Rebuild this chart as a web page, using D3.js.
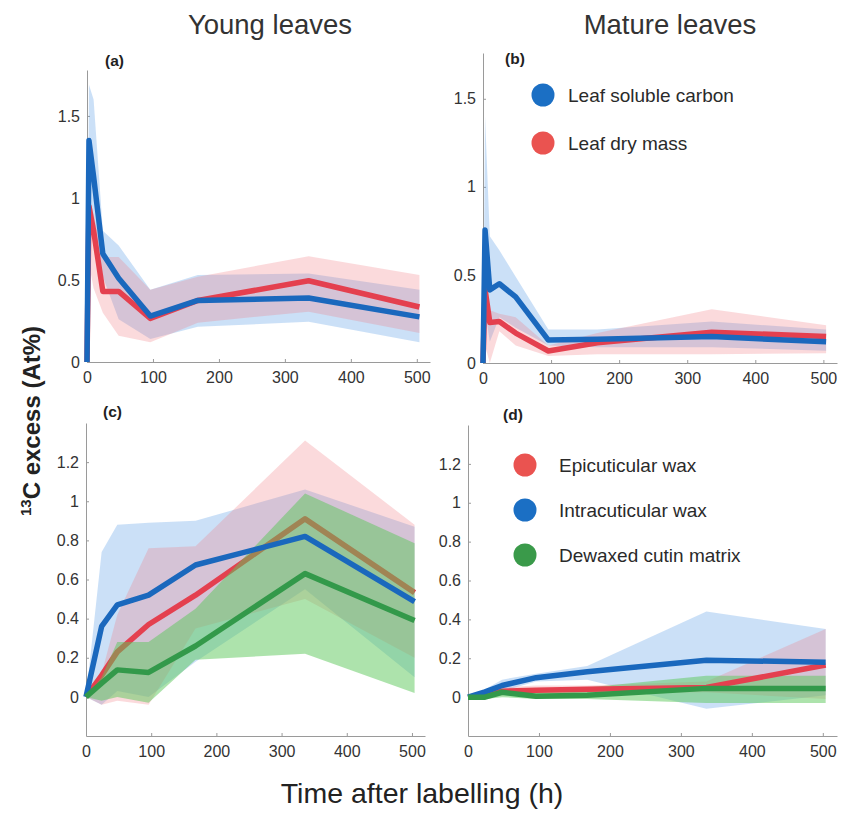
<!DOCTYPE html>
<html>
<head>
<meta charset="utf-8">
<script src="https://cdn.jsdelivr.net/npm/d3@7"></script>
<style>
  body { margin: 0; background: #fff; }
  svg { font-family: "Liberation Sans", Arial, sans-serif; }
  .axis path, .axis line { stroke: #9a9a9a; }
  .axis text { fill: #333; font-size: 16px; }
</style>
</head>
<body>
<svg width="845" height="814"></svg>
<script>
// sampling times (h)
const timesLeaf = [0, 3, 10, 24, 48, 96, 168, 336, 504];
const timesCuticle = [0, 24, 48, 96, 168, 336, 504];

const xTicks = [0, 100, 200, 300, 400, 500];
const yTicksLeaf = [0, 0.5, 1, 1.5];
const yTicksCuticle = [0, 0.2, 0.4, 0.6, 0.8, 1, 1.2];

// (a) young leaves
const aSolMean = [0, 1.35, 1.13, 0.66, 0.51, 0.28, 0.375, 0.39, 0.275];
const aSolHi   = [0, 1.69, 1.60, 0.80, 0.71, 0.44, 0.53, 0.54, 0.44];
const aSolLo   = [0, 1.00, 0.85, 0.52, 0.26, 0.14, 0.215, 0.245, 0.12];
const aDryMean = [0, 0.95, 0.80, 0.43, 0.43, 0.265, 0.375, 0.495, 0.335];
const aDryHi   = [0, 1.00, 0.90, 0.64, 0.64, 0.44, 0.52, 0.645, 0.53];
const aDryLo   = [0, 0.60, 0.45, 0.30, 0.16, 0.12, 0.24, 0.307, 0.177];

// (b) mature leaves
const bSolMean = [0, 0.755, 0.415, 0.45, 0.375, 0.13, 0.135, 0.15, 0.12];
const bSolHi   = [0, 1.40, 0.72, 0.64, 0.49, 0.19, 0.19, 0.235, 0.19];
const bSolLo   = [0, 0.30, 0.12, 0.26, 0.20, 0.10, 0.09, 0.09, 0.07];
const bDryMean = [0, 0.42, 0.23, 0.235, 0.17, 0.068, 0.115, 0.175, 0.15];
const bDryHi   = [0, 0.50, 0.30, 0.28, 0.26, 0.10, 0.17, 0.305, 0.215];
const bDryLo   = [0, 0.10, 0.00, 0.18, 0.10, 0.04, 0.05, 0.05, 0.055];

// (c) young leaves, cuticle fractions
const cEpiMean   = [0, 0.11, 0.23, 0.37, 0.52, 0.91, 0.533];
const cEpiHi     = [0, 0.12, 0.42, 0.76, 0.77, 1.31, 0.88];
const cEpiLo     = [0, -0.04, -0.02, -0.04, 0.35, 0.50, 0.20];
const cIntraMean = [0, 0.36, 0.47, 0.52, 0.674, 0.82, 0.487];
const cIntraHi   = [0, 0.74, 0.88, 0.89, 0.90, 1.06, 0.87];
const cIntraLo   = [0, -0.04, 0.03, 0.00, 0.18, 0.55, 0.10];
const cCutinMean = [0, 0.07, 0.138, 0.125, 0.26, 0.63, 0.39];
const cCutinHi   = [0, 0.10, 0.28, 0.28, 0.45, 1.04, 0.785];
const cCutinLo   = [0, -0.02, 0.00, -0.03, 0.19, 0.22, 0.02];

// (d) mature leaves, cuticle fractions
const dEpiMean   = [0, 0.01, 0.03, 0.035, 0.04, 0.05, 0.165];
const dEpiHi     = [0, 0.02, 0.05, 0.06, 0.06, 0.08, 0.35];
const dEpiLo     = [0, -0.01, 0.01, 0.015, 0.02, 0.025, -0.01];
const dIntraMean = [0, 0.027, 0.06, 0.10, 0.13, 0.19, 0.18];
const dIntraHi   = [0, 0.04, 0.09, 0.12, 0.16, 0.44, 0.35];
const dIntraLo   = [0, 0.01, 0.03, 0.08, 0.09, -0.06, 0.01];
const dCutinMean = [0, 0.0, 0.025, 0.005, 0.01, 0.045, 0.045];
const dCutinHi   = [0, 0.02, 0.04, 0.03, 0.05, 0.11, 0.11];
const dCutinLo   = [0, -0.01, 0.0, -0.01, -0.01, -0.03, -0.03];

const legendLeaf = ["Leaf soluble carbon", "Leaf dry mass"];
const legendCuticle = ["Epicuticular wax", "Intracuticular wax", "Dewaxed cutin matrix"];

const blue = { line: "#1a68bd", band: "#5c9ee6", op: 0.32, dot: "#1b6fc4" };
const red = { line: "#e4404f", band: "#f07a80", op: 0.28, dot: "#ea5350" };
const green = { line: "#33994a", band: "#5cc85a", op: 0.5, dot: "#3a9a4a" };

const svg = d3.select("svg");

const panels = [
  { label: "(a)", lx: 105, ly: 66, xr: [87, 430], yd: [0, 1.78], yr: [362, 70], yt: yTicksLeaf, t: timesLeaf,
    layers: [
      ["band", aSolLo, aSolHi, blue], ["band", aDryLo, aDryHi, red],
      ["line", aDryMean, red], ["line", aSolMean, blue]] },
  { label: "(b)", lx: 505, ly: 64, xr: [483, 837], yd: [0, 1.76], yr: [363, 53], yt: yTicksLeaf, t: timesLeaf,
    layers: [
      ["band", bSolLo, bSolHi, blue], ["band", bDryLo, bDryHi, red],
      ["line", bDryMean, red], ["line", bSolMean, blue]] },
  { label: "(c)", lx: 103, ly: 417, xr: [86, 425], yd: [-0.2, 1.4], yr: [736, 423], yt: yTicksCuticle, t: timesCuticle,
    layers: [
      ["band", cIntraLo, cIntraHi, blue], ["band", cEpiLo, cEpiHi, red], ["line", cEpiMean, red],
      ["band", cCutinLo, cCutinHi, green], ["line", cIntraMean, blue], ["line", cCutinMean, green]] },
  { label: "(d)", lx: 503, ly: 420, xr: [468, 837], yd: [-0.2, 1.4], yr: [736, 425], yt: yTicksCuticle, t: timesCuticle,
    layers: [
      ["band", dIntraLo, dIntraHi, blue], ["band", dEpiLo, dEpiHi, red],
      ["band", dCutinLo, dCutinHi, green], ["line", dEpiMean, red],
      ["line", dIntraMean, blue], ["line", dCutinMean, green]] }
];

panels.forEach(drawPanel);

function drawPanel(p) {
  const x = d3.scaleLinear().domain([0, 520]).range(p.xr);
  const y = d3.scaleLinear().domain(p.yd).range(p.yr);
  const g = svg.append("g");

  g.append("g")
    .attr("class", "axis")
    .attr("transform", `translate(0,${p.yr[0]})`)
    .call(d3.axisBottom(x).tickValues(xTicks).tickSizeInner(-3).tickSizeOuter(0).tickPadding(10).tickFormat(d3.format("d")));

  g.append("g")
    .attr("class", "axis")
    .attr("transform", `translate(${p.xr[0]},0)`)
    .call(d3.axisLeft(y).tickValues(p.yt).tickSizeInner(-3).tickSizeOuter(0).tickPadding(7).tickFormat(d3.format("~g")));

  g.selectAll(".axis text").attr("font-family", null);

  p.layers.forEach(layer => {
    if (layer[0] == "band") {
      const lo = layer[1], hi = layer[2], c = layer[3];
      const area = d3.area()
        .x((d, i) => x(p.t[i]))
        .y0((d, i) => y(lo[i]))
        .y1((d, i) => y(hi[i]));
      g.append("path")
        .datum(lo)
        .attr("d", area)
        .attr("fill", c.band)
        .attr("fill-opacity", c.op);
    } else {
      const vals = layer[1], c = layer[2];
      const line = d3.line()
        .x((d, i) => x(p.t[i]))
        .y(d => y(d));
      g.append("path")
        .datum(vals)
        .attr("d", line)
        .attr("fill", "none")
        .attr("stroke", c.line)
        .attr("stroke-width", 5.5)
        .attr("stroke-linejoin", "round");
    }
  });

  svg.append("text")
    .attr("x", p.lx)
    .attr("y", p.ly)
    .attr("font-size", 15.5)
    .attr("font-weight", "bold")
    .attr("fill", "#222")
    .text(p.label);
}

/* ----------- legends ----------- */

function legend(items, colors, cx, textX, y0, step) {
  items.forEach((name, i) => {
    svg.append("circle")
      .attr("cx", cx).attr("cy", y0 + i * step).attr("r", 11.5)
      .attr("fill", colors[i].dot);
    svg.append("text")
      .attr("x", textX).attr("y", y0 + i * step + 7)
      .attr("font-size", 19)
      .attr("fill", "#2a2a2a")
      .text(name);
  });
}

legend(legendLeaf, [blue, red], 543, 568, 95, 48);
legend(legendCuticle, [red, blue, green], 525, 559, 465, 45);

/* ----------- titles ----------- */

svg.append("text")
  .attr("x", 270).attr("y", 34)
  .attr("text-anchor", "middle")
  .attr("font-size", 27.5)
  .attr("fill", "#333")
  .text("Young leaves");

svg.append("text")
  .attr("x", 670).attr("y", 34)
  .attr("text-anchor", "middle")
  .attr("font-size", 27.5)
  .attr("fill", "#333")
  .text("Mature leaves");

svg.append("text")
  .attr("x", 422).attr("y", 803)
  .attr("text-anchor", "middle")
  .attr("font-size", 28.5)
  .attr("fill", "#222")
  .text("Time after labelling (h)");

const yTitle = svg.append("text")
  .attr("transform", "translate(40,421) rotate(-90)")
  .attr("text-anchor", "middle")
  .attr("font-size", 24)
  .attr("font-weight", "bold")
  .attr("fill", "#222");
yTitle.append("tspan").attr("font-size", 15).attr("dy", -9).text("13");
yTitle.append("tspan").attr("dy", 9).text("C excess (At%)");
</script>
</body>
</html>
